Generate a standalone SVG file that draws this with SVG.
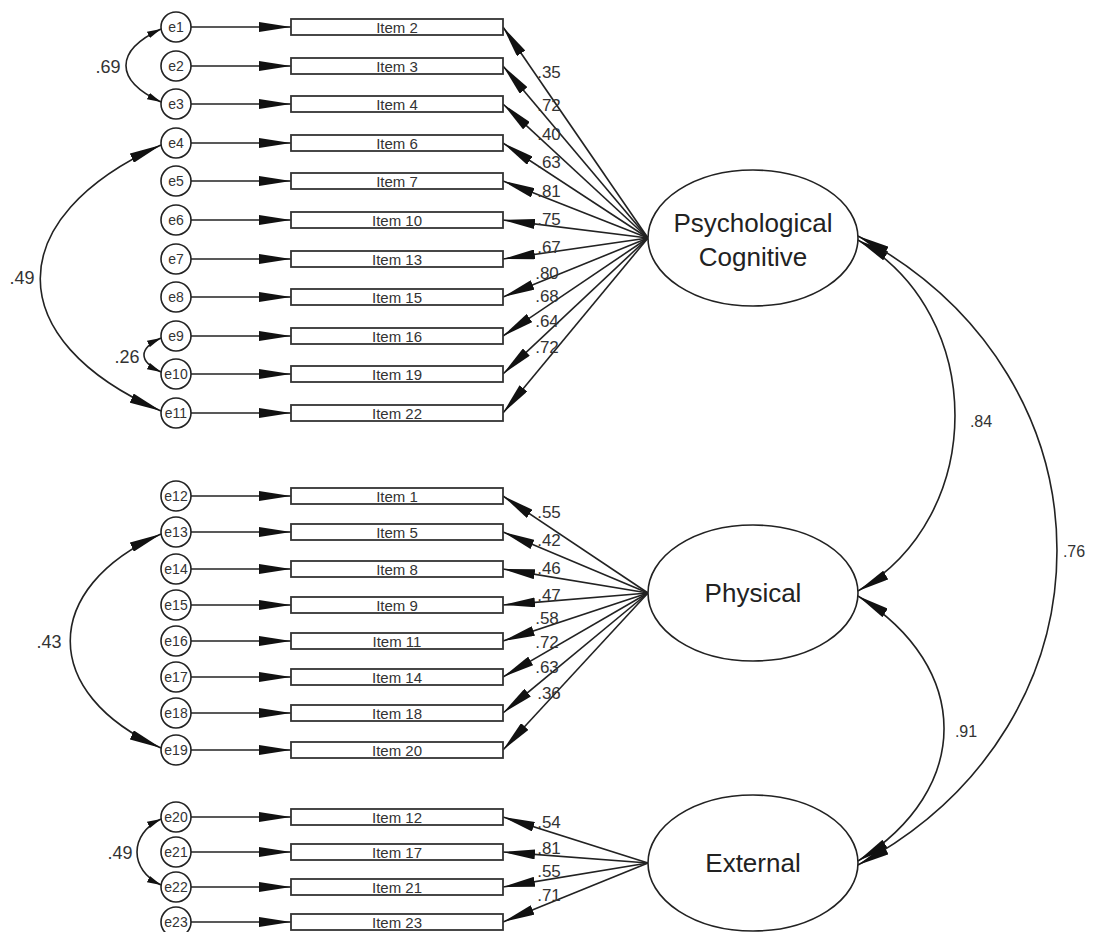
<svg xmlns="http://www.w3.org/2000/svg" width="1097" height="932" viewBox="0 0 1097 932">
<style>
.bg{fill:#fff}
.err circle{fill:#fff;stroke:#222;stroke-width:1.6}
.err text{font-family:"Liberation Sans",Arial,sans-serif;font-size:14px;fill:#333;text-anchor:middle}
.obs rect{fill:#fff;stroke:#333;stroke-width:1.8}
.obs text{font-family:"Liberation Sans",Arial,sans-serif;font-size:15px;fill:#333;text-anchor:middle}
.lat ellipse{fill:#fff;stroke:#222;stroke-width:1.6}
.lat text{font-family:"Liberation Sans",Arial,sans-serif;font-size:26px;fill:#222;text-anchor:middle}
.cn line,.cn path{fill:none;stroke:#222;stroke-width:1.6}
.ar{marker-end:url(#ah)}
.cv{marker-start:url(#ah);marker-end:url(#ah)}
.cvs{marker-start:url(#as);marker-end:url(#as)}
.lb text{font-family:"Liberation Sans",Arial,sans-serif;font-size:17px;fill:#333;text-anchor:middle}
.lb .big{font-size:18px}
.lb .rt{font-size:16px}
</style>
<defs>
<marker id="ah" viewBox="0 0 32 10" refX="32" refY="5" markerWidth="32" markerHeight="10" markerUnits="userSpaceOnUse" orient="auto-start-reverse"><path d="M0,0 L32,5 L0,10 z" fill="#111"/></marker>
<marker id="as" viewBox="0 0 14 7" refX="14" refY="3.5" markerWidth="14" markerHeight="7" markerUnits="userSpaceOnUse" orient="auto-start-reverse"><path d="M0,0 L14,3.5 L0,7 z" fill="#111"/></marker>
</defs>
<rect class="bg" x="0" y="0" width="1097" height="932"/>

<g id="connectors" class="cn">
<line class="ar" x1="191" y1="27" x2="291" y2="27"/>
<line class="ar" x1="191" y1="66" x2="291" y2="66"/>
<line class="ar" x1="191" y1="104" x2="291" y2="104"/>
<line class="ar" x1="191" y1="143" x2="291" y2="143"/>
<line class="ar" x1="191" y1="181" x2="291" y2="181"/>
<line class="ar" x1="191" y1="220" x2="291" y2="220"/>
<line class="ar" x1="191" y1="259" x2="291" y2="259"/>
<line class="ar" x1="191" y1="297" x2="291" y2="297"/>
<line class="ar" x1="191" y1="336" x2="291" y2="336"/>
<line class="ar" x1="191" y1="374" x2="291" y2="374"/>
<line class="ar" x1="191" y1="413" x2="291" y2="413"/>
<line class="ar" x1="191" y1="496" x2="291" y2="496"/>
<line class="ar" x1="191" y1="532" x2="291" y2="532"/>
<line class="ar" x1="191" y1="569" x2="291" y2="569"/>
<line class="ar" x1="191" y1="605" x2="291" y2="605"/>
<line class="ar" x1="191" y1="641" x2="291" y2="641"/>
<line class="ar" x1="191" y1="677" x2="291" y2="677"/>
<line class="ar" x1="191" y1="713" x2="291" y2="713"/>
<line class="ar" x1="191" y1="750" x2="291" y2="750"/>
<line class="ar" x1="191" y1="817" x2="291" y2="817"/>
<line class="ar" x1="191" y1="852" x2="291" y2="852"/>
<line class="ar" x1="191" y1="887" x2="291" y2="887"/>
<line class="ar" x1="191" y1="922" x2="291" y2="922"/>
<line class="ar" x1="648" y1="238" x2="503" y2="27"/>
<line class="ar" x1="648" y1="238" x2="503" y2="66"/>
<line class="ar" x1="648" y1="238" x2="503" y2="104"/>
<line class="ar" x1="648" y1="238" x2="503" y2="143"/>
<line class="ar" x1="648" y1="238" x2="503" y2="181"/>
<line class="ar" x1="648" y1="238" x2="503" y2="220"/>
<line class="ar" x1="648" y1="238" x2="503" y2="259"/>
<line class="ar" x1="648" y1="238" x2="503" y2="297"/>
<line class="ar" x1="648" y1="238" x2="503" y2="336"/>
<line class="ar" x1="648" y1="238" x2="503" y2="374"/>
<line class="ar" x1="648" y1="238" x2="503" y2="413"/>
<line class="ar" x1="648" y1="593" x2="503" y2="496"/>
<line class="ar" x1="648" y1="593" x2="503" y2="532"/>
<line class="ar" x1="648" y1="593" x2="503" y2="569"/>
<line class="ar" x1="648" y1="593" x2="503" y2="605"/>
<line class="ar" x1="648" y1="593" x2="503" y2="641"/>
<line class="ar" x1="648" y1="593" x2="503" y2="677"/>
<line class="ar" x1="648" y1="593" x2="503" y2="713"/>
<line class="ar" x1="648" y1="593" x2="503" y2="750"/>
<line class="ar" x1="648" y1="863" x2="503" y2="817"/>
<line class="ar" x1="648" y1="863" x2="503" y2="852"/>
<line class="ar" x1="648" y1="863" x2="503" y2="887"/>
<line class="ar" x1="648" y1="863" x2="503" y2="922"/>
<path class="cvs" d="M161,29 C114.3,50.8 114.3,80.2 161,102"/>
<path class="cv" d="M161,145 C0,217.6 0,340.4 161,411"/>
<path class="cvs" d="M161,338 C138.3,348.6 138.3,361.4 161,372"/>
<path class="cv" d="M161,534 C40,588 40,694 161,748"/>
<path class="cvs" d="M161,819 C129,834 129,870 161,885"/>
<path class="cv" d="M858,240 C987.3,314.7 987.3,516.3 858,591"/>
<path class="cv" d="M858,596 C972.7,667.6 972.7,789.4 858,861"/>
<path class="cv" d="M858,236 C1123.3,377.1 1123.3,723.9 858,865"/>
</g>

<g id="labels" class="lb">
<text x="549" y="78">.35</text>
<text x="549" y="111">.72</text>
<text x="549" y="140">.40</text>
<text x="549" y="168">.63</text>
<text x="549" y="197">.81</text>
<text x="549" y="225">.75</text>
<text x="549" y="253">.67</text>
<text x="547" y="279">.80</text>
<text x="547" y="302">.68</text>
<text x="547" y="327">.64</text>
<text x="547" y="353">.72</text>
<text x="549" y="518">.55</text>
<text x="549" y="546">.42</text>
<text x="549" y="574">.46</text>
<text x="549" y="601">.47</text>
<text x="547" y="624">.58</text>
<text x="547" y="648">.72</text>
<text x="547" y="673">.63</text>
<text x="549" y="699">.36</text>
<text x="549" y="828">.54</text>
<text x="549" y="854">.81</text>
<text x="549" y="877">.55</text>
<text x="549" y="901">.71</text>
<text class="big" x="108" y="73">.69</text>
<text class="big" x="22" y="284">.49</text>
<text class="big" x="127" y="363">.26</text>
<text class="big" x="49" y="648">.43</text>
<text class="big" x="120" y="859">.49</text>
<text class="rt" x="981" y="427">.84</text>
<text class="rt" x="966" y="737">.91</text>
<text class="rt" x="1074" y="557">.76</text>
</g>

<g id="e1" class="err"><circle cx="176" cy="27" r="15"/><text x="176" y="32">e1</text></g>
<g id="e2" class="err"><circle cx="176" cy="66" r="15"/><text x="176" y="71">e2</text></g>
<g id="e3" class="err"><circle cx="176" cy="104" r="15"/><text x="176" y="109">e3</text></g>
<g id="e4" class="err"><circle cx="176" cy="143" r="15"/><text x="176" y="148">e4</text></g>
<g id="e5" class="err"><circle cx="176" cy="181" r="15"/><text x="176" y="186">e5</text></g>
<g id="e6" class="err"><circle cx="176" cy="220" r="15"/><text x="176" y="225">e6</text></g>
<g id="e7" class="err"><circle cx="176" cy="259" r="15"/><text x="176" y="264">e7</text></g>
<g id="e8" class="err"><circle cx="176" cy="297" r="15"/><text x="176" y="302">e8</text></g>
<g id="e9" class="err"><circle cx="176" cy="336" r="15"/><text x="176" y="341">e9</text></g>
<g id="e10" class="err"><circle cx="176" cy="374" r="15"/><text x="176" y="379">e10</text></g>
<g id="e11" class="err"><circle cx="176" cy="413" r="15"/><text x="176" y="418">e11</text></g>
<g id="e12" class="err"><circle cx="176" cy="496" r="15"/><text x="176" y="501">e12</text></g>
<g id="e13" class="err"><circle cx="176" cy="532" r="15"/><text x="176" y="537">e13</text></g>
<g id="e14" class="err"><circle cx="176" cy="569" r="15"/><text x="176" y="574">e14</text></g>
<g id="e15" class="err"><circle cx="176" cy="605" r="15"/><text x="176" y="610">e15</text></g>
<g id="e16" class="err"><circle cx="176" cy="641" r="15"/><text x="176" y="646">e16</text></g>
<g id="e17" class="err"><circle cx="176" cy="677" r="15"/><text x="176" y="682">e17</text></g>
<g id="e18" class="err"><circle cx="176" cy="713" r="15"/><text x="176" y="718">e18</text></g>
<g id="e19" class="err"><circle cx="176" cy="750" r="15"/><text x="176" y="755">e19</text></g>
<g id="e20" class="err"><circle cx="176" cy="817" r="15"/><text x="176" y="822">e20</text></g>
<g id="e21" class="err"><circle cx="176" cy="852" r="15"/><text x="176" y="857">e21</text></g>
<g id="e22" class="err"><circle cx="176" cy="887" r="15"/><text x="176" y="892">e22</text></g>
<g id="e23" class="err"><circle cx="176" cy="922" r="15"/><text x="176" y="927">e23</text></g>

<g id="item2" class="obs"><rect x="291" y="19" width="212" height="16"/><text x="397" y="32.5">Item 2</text></g>
<g id="item3" class="obs"><rect x="291" y="58" width="212" height="16"/><text x="397" y="71.5">Item 3</text></g>
<g id="item4" class="obs"><rect x="291" y="96" width="212" height="16"/><text x="397" y="109.5">Item 4</text></g>
<g id="item6" class="obs"><rect x="291" y="135" width="212" height="16"/><text x="397" y="148.5">Item 6</text></g>
<g id="item7" class="obs"><rect x="291" y="173" width="212" height="16"/><text x="397" y="186.5">Item 7</text></g>
<g id="item10" class="obs"><rect x="291" y="212" width="212" height="16"/><text x="397" y="225.5">Item 10</text></g>
<g id="item13" class="obs"><rect x="291" y="251" width="212" height="16"/><text x="397" y="264.5">Item 13</text></g>
<g id="item15" class="obs"><rect x="291" y="289" width="212" height="16"/><text x="397" y="302.5">Item 15</text></g>
<g id="item16" class="obs"><rect x="291" y="328" width="212" height="16"/><text x="397" y="341.5">Item 16</text></g>
<g id="item19" class="obs"><rect x="291" y="366" width="212" height="16"/><text x="397" y="379.5">Item 19</text></g>
<g id="item22" class="obs"><rect x="291" y="405" width="212" height="16"/><text x="397" y="418.5">Item 22</text></g>
<g id="item1" class="obs"><rect x="291" y="488" width="212" height="16"/><text x="397" y="501.5">Item 1</text></g>
<g id="item5" class="obs"><rect x="291" y="524" width="212" height="16"/><text x="397" y="537.5">Item 5</text></g>
<g id="item8" class="obs"><rect x="291" y="561" width="212" height="16"/><text x="397" y="574.5">Item 8</text></g>
<g id="item9" class="obs"><rect x="291" y="597" width="212" height="16"/><text x="397" y="610.5">Item 9</text></g>
<g id="item11" class="obs"><rect x="291" y="633" width="212" height="16"/><text x="397" y="646.5">Item 11</text></g>
<g id="item14" class="obs"><rect x="291" y="669" width="212" height="16"/><text x="397" y="682.5">Item 14</text></g>
<g id="item18" class="obs"><rect x="291" y="705" width="212" height="16"/><text x="397" y="718.5">Item 18</text></g>
<g id="item20" class="obs"><rect x="291" y="742" width="212" height="16"/><text x="397" y="755.5">Item 20</text></g>
<g id="item12" class="obs"><rect x="291" y="809" width="212" height="16"/><text x="397" y="822.5">Item 12</text></g>
<g id="item17" class="obs"><rect x="291" y="844" width="212" height="16"/><text x="397" y="857.5">Item 17</text></g>
<g id="item21" class="obs"><rect x="291" y="879" width="212" height="16"/><text x="397" y="892.5">Item 21</text></g>
<g id="item23" class="obs"><rect x="291" y="914" width="212" height="16"/><text x="397" y="927.5">Item 23</text></g>

<g id="psychological-cognitive" class="lat"><ellipse cx="753" cy="238" rx="105" ry="68"/><text x="753" y="232">Psychological</text><text x="753" y="266">Cognitive</text></g>
<g id="physical" class="lat"><ellipse cx="753" cy="593" rx="105" ry="68"/><text x="753" y="602">Physical</text></g>
<g id="external" class="lat"><ellipse cx="753" cy="863" rx="105" ry="68"/><text x="753" y="872">External</text></g>
</svg>
